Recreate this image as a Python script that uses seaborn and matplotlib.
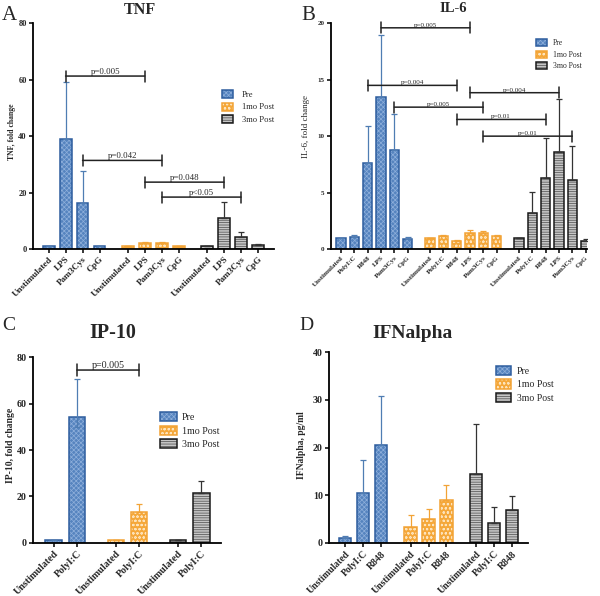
import numpy as np
import pandas as pd
import matplotlib
matplotlib.use("Agg")
import matplotlib.pyplot as plt
import seaborn as sns
from matplotlib.patches import Rectangle, Patch

groups = ["Pre", "1mo Post", "3mo Post"]

# A - TNF, fold change
tnf_stims = ["Unstimulated", "LPS", "Pam3Cys", "CpG"]
tnf_pre = [1.0, 39.0, 16.4, 1.1]
tnf_pre_sem = [0.1, 20.3, 11.4, 0.1]
tnf_1mo = [1.0, 2.1, 2.1, 0.9]
tnf_1mo_sem = [0.05, 0.25, 0.25, 0.05]
tnf_3mo = [1.0, 11.1, 4.3, 1.4]
tnf_3mo_sem = [0.05, 5.6, 1.6, 0.2]

# B - IL-6, fold change
il6_stims = ["Unstimulated", "PolyI:C", "R848", "LPS", "Pam3Cys", "CpG"]
il6_pre = [1.0, 1.07, 7.6, 13.46, 8.79, 0.86]
il6_pre_sem = [0.0, 0.21, 3.26, 5.5, 3.16, 0.21]
il6_1mo = [1.0, 1.15, 0.71, 1.45, 1.43, 1.15]
il6_1mo_sem = [0.0, 0.05, 0.09, 0.27, 0.19, 0.05]
il6_3mo = [1.0, 3.2, 6.25, 8.6, 6.12, 0.68]
il6_3mo_sem = [0.0, 1.89, 3.57, 4.68, 3.05, 0.24]

# C - IP-10, fold change
ip10_stims = ["Unstimulated", "PolyI:C"]
ip10_pre = [1.0, 54.4]
ip10_pre_sem = [0.0, 16.1]
ip10_pre_low = [0.0, 4.5]   # short lower whisker on Pre Poly I:C
ip10_1mo = [1.0, 13.1]
ip10_1mo_sem = [0.0, 3.4]
ip10_3mo = [1.0, 21.6]
ip10_3mo_sem = [0.0, 5.0]

# D - IFNalpha, pg/ml
ifn_stims = ["Unstimulated", "PolyI:C", "R848"]
ifn_pre = [1.05, 10.4, 20.5]
ifn_pre_sem = [0.45, 7.0, 10.4]
ifn_1mo = [3.4, 5.1, 9.0]
ifn_1mo_sem = [2.55, 2.0, 3.25]
ifn_3mo = [14.4, 4.2, 6.9]
ifn_3mo_sem = [10.5, 3.4, 2.9]

# significance brackets: (group a, stim a, group b, stim b, height, label)
tnf_brackets = [(0, "LPS", 1, "LPS", 61.3, "p=0.005"),
                (0, "Pam3Cys", 1, "Pam3Cys", 31.4, "p=0.042"),
                (1, "LPS", 2, "LPS", 23.7, "p=0.048"),
                (1, "Pam3Cys", 2, "Pam3Cys", 18.4, "p<0.05")]
il6_brackets = [(0, "LPS", 1, "LPS", 19.6, "p=0.005"),
                (0, "R848", 1, "R848", 14.5, "p=0.004"),
                (0, "Pam3Cys", 1, "Pam3Cys", 12.57, "p=0.005"),
                (1, "LPS", 2, "LPS", 13.85, "p=0.004"),
                (1, "R848", 2, "R848", 11.48, "p=0.01"),
                (1, "Pam3Cys", 2, "Pam3Cys", 10.0, "p=0.01")]
ip10_brackets = [(0, "PolyI:C", 1, "PolyI:C", 74.5, "p=0.005")]

sns.set_style("ticks")
plt.rcParams['font.family'] = ['Liberation Serif', 'DejaVu Serif']
plt.rcParams['hatch.linewidth'] = 0.5

fill = {"Pre": "#5684bf", "1mo Post": "#f5a83a", "3mo Post": "#c6c6c6"}
edge = {"Pre": "#2d5d9e", "1mo Post": "#f2a336", "3mo Post": "#1a1a1a"}
hatch_col = {"Pre": "#8eafdb", "1mo Post": "#fde3bb", "3mo Post": "#4a4a4a"}
hatch = {"Pre": "xxxxxxx", "1mo Post": "oooo", "3mo Post": "-------"}
err_col = {"Pre": "#4f7db3", "1mo Post": "#f2a336", "3mo Post": "#333333"}
GAP = 0.67

W, H = 600, 596
fig = plt.figure(figsize=(6, 5.96), dpi=100)


def px_axes(left, top, right, bottom):
    return fig.add_axes([left / W, 1 - bottom / H, (right - left) / W, (bottom - top) / H])


def positions(n, gi):
    return np.arange(n) + gi * (n + GAP)


def draw_panel(ax, stims, means, sems, brackets, ymax, ystep, xfs, yfs, pfs,
               lower=None, xpad=(0.9, 0.9)):
    n = len(stims)
    for gi, g in enumerate(groups):
        x = positions(n, gi)
        k = len(ax.patches)
        sns.barplot(x=x, y=means[gi], native_scale=True, width=0.7, color=fill[g],
                    saturation=1, errorbar=None, ax=ax)
        for p in list(ax.patches[k:]):
            p.set_linewidth(0)
            ax.add_patch(Rectangle(p.get_xy(), p.get_width(), p.get_height(), facecolor='none',
                                   edgecolor=hatch_col[g], hatch=hatch[g], lw=0, zorder=1.1))
            ax.add_patch(Rectangle(p.get_xy(), p.get_width(), p.get_height(), facecolor='none',
                                   edgecolor=edge[g], lw=1.1, zorder=1.2))
        lo = np.zeros(n) if lower is None or lower[gi] is None else np.array(lower[gi])
        ax.errorbar(x, means[gi], yerr=[lo, sems[gi]], fmt='none', ecolor=err_col[g],
                    elinewidth=0.9, capsize=2.2, capthick=0.9, zorder=1.3)

    for ga, sa, gb, sb, y, label in brackets:
        xa = positions(n, ga)[stims.index(sa)]
        xb = positions(n, gb)[stims.index(sb)]
        ax.annotate('', xy=(xa, y), xytext=(xb, y),
                    arrowprops=dict(arrowstyle='|-|, widthA=0.4, widthB=0.4', lw=1.1,
                                    color='#222222', shrinkA=0, shrinkB=0, mutation_scale=10))
        ax.text((xa + xb) / 2, y, label, ha='center', va='bottom', fontsize=pfs)

    allx = np.concatenate([positions(n, gi) for gi in range(3)])
    ax.set_xticks(allx)
    ax.set_xticklabels(stims * 3, rotation=45, ha='right', rotation_mode='anchor',
                       fontweight='bold', fontsize=xfs)
    ax.set_xlim(allx[0] - xpad[0], allx[-1] + xpad[1])
    ax.set_ylim(0, ymax)
    ax.set_yticks(np.arange(0, ymax + 0.01, ystep))
    ax.set_yticklabels([f"{v:g}" for v in np.arange(0, ymax + 0.01, ystep)],
                       fontweight='bold', fontsize=yfs)
    ax.set_xlabel('')
    ax.set_ylabel('')
    sns.despine(ax=ax)
    for s in ['left', 'bottom']:
        ax.spines[s].set_linewidth(1.3)
        ax.spines[s].set_color('black')
    ax.tick_params(axis='both', direction='out', length=3, width=1.1, color='black', pad=1.5)


def add_legend(ax, x, y, fs, hl, hh, pad, spacing):
    handles = [(Patch(facecolor=fill[g], lw=0),
                Patch(facecolor='none', edgecolor=hatch_col[g], hatch=hatch[g], lw=0),
                Patch(facecolor='none', edgecolor=edge[g], lw=1.1)) for g in groups]
    ax.legend(handles, groups, loc='upper left', bbox_to_anchor=(x / W, 1 - y / H),
              bbox_transform=fig.transFigure, frameon=False, fontsize=fs,
              handlelength=hl, handleheight=hh, handletextpad=pad, labelspacing=spacing,
              borderpad=0, borderaxespad=0)


axA = px_axes(33, 23.3, 274, 249)
draw_panel(axA, tnf_stims, [tnf_pre, tnf_1mo, tnf_3mo], [tnf_pre_sem, tnf_1mo_sem, tnf_3mo_sem],
           tnf_brackets, 80, 20, 6.6, 6, 6.4, xpad=(0.92, 0.94))
add_legend(axA, 222, 90, 6.1, 1.35, 1.1, 1.0, 0.42)

axB = px_axes(330.7, 23.3, 587, 249)
draw_panel(axB, il6_stims, [il6_pre, il6_1mo, il6_3mo], [il6_pre_sem, il6_1mo_sem, il6_3mo_sem],
           il6_brackets, 20, 5, 5.0, 5, 5, xpad=(0.77, 0.1))
add_legend(axB, 535.7, 39, 5.5, 1.45, 1.05, 0.8, 0.45)

axC = px_axes(33, 357.3, 220.7, 542.7)
draw_panel(axC, ip10_stims, [ip10_pre, ip10_1mo, ip10_3mo], [ip10_pre_sem, ip10_1mo_sem, ip10_3mo_sem],
           ip10_brackets, 80, 20, 7.2, 7.2, 7.2, lower=[ip10_pre_low, None, None], xpad=(0.88, 0.83))
add_legend(axC, 160, 412, 7.2, 1.65, 1.05, 0.55, 0.35)

axD = px_axes(329, 352.3, 528, 543)
draw_panel(axD, ifn_stims, [ifn_pre, ifn_1mo, ifn_3mo], [ifn_pre_sem, ifn_1mo_sem, ifn_3mo_sem],
           [], 40, 10, 6.9, 7.2, 7)
add_legend(axD, 495.7, 366, 7.0, 1.6, 1.1, 0.6, 0.35)

# titles, panel letters, y labels
for x, y, t, fs in [(140, 10, "TNF", 11.6), (453, 9, "IL-6", 10.5),
                    (113, 333, "IP-10", 14.4), (413, 333, "IFNalpha", 14)]:
    fig.text(x / W, 1 - y / H, t, ha='center', va='center', fontsize=fs, fontweight='bold')
for x, y, t, fs in [(9, 15, "A", 15), (308, 15, "B", 15), (9, 326, "C", 14), (306, 326, "D", 14)]:
    fig.text(x / W, 1 - y / H, t, ha='center', va='center', fontsize=fs)
for x, y, t, fs, fw in [(11.7, 132, "TNF, fold change", 5.6, 'bold'),
                        (305.7, 127, "IL-6, fold change", 6.5, 'normal'),
                        (11, 445, "IP-10, fold change", 6.9, 'bold'),
                        (302, 445, "IFNalpha, pg/ml", 6.9, 'bold')]:
    fig.text(x / W, 1 - y / H, t, ha='center', va='center', rotation=90, fontsize=fs, fontweight=fw)

fig.savefig("out.png", dpi=100)
